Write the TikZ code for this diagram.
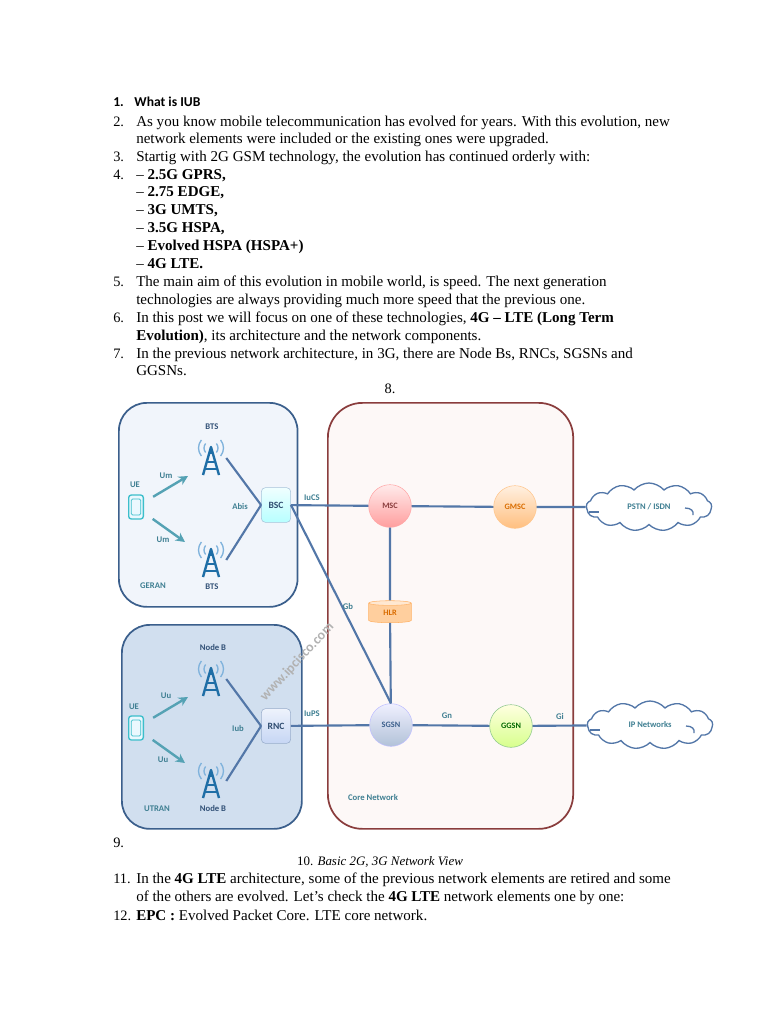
\documentclass[tikz,border=0pt]{standalone}
\usepackage{fontspec}
\setmainfont{Liberation Serif}
\newfontfamily\labelfont{Carlito}
\usetikzlibrary{arrows.meta,positioning,calc,shapes.geometric,shapes.symbols}
\definecolor{wire}{HTML}{5377A8}
\definecolor{teal}{HTML}{3F7F92}
\definecolor{arrowteal}{HTML}{55A2B4}
\definecolor{towerblue}{HTML}{1F6EA6}
\definecolor{signalblue}{HTML}{7FB2DC}
\definecolor{geranfill}{HTML}{F1F5FB}
\definecolor{utranfill}{HTML}{D1DFEF}
\definecolor{zoneline}{HTML}{3B5F8C}
\definecolor{corefill}{HTML}{FDF8F7}
\definecolor{coreline}{HTML}{8A3D3D}
\definecolor{rncfill}{HTML}{C6D6F4}
\tikzset{bodytext/.style={anchor=base west,inner sep=0pt,font=\fontsize{11.28}{12}\selectfont},
 listnum/.style={anchor=base west,inner sep=0pt,font=\fontsize{10.8}{12}\selectfont},
 zone/.style={draw=zoneline,line width=1.3pt,rounded corners=21pt,anchor=north west,inner sep=0pt},
 wirelink/.style={draw=wire,line width=1.6pt},
 uplink/.style={-{Stealth[length=7pt,width=7pt]},draw=arrowteal,line width=1.8pt,shorten <=8pt},
 tag/.style={font=\labelfont\bfseries\fontsize{6.5}{7}\selectfont,text=teal,inner sep=0pt},
 darktag/.style={tag,text=zoneline!85!black},
 towerbox/.style={minimum width=22.5pt,minimum height=27pt,inner sep=0pt},
 uebox/.style={draw=arrowteal!70!cyan,fill=cyan!8,line width=1pt,rounded corners=2pt,minimum width=11pt,minimum height=18pt,inner sep=0pt},
 uescreen/.style={draw=arrowteal!70!cyan,line width=.6pt,rounded corners=1pt,minimum width=7pt,minimum height=12pt,inner sep=0pt},
 ctrl/.style={rounded corners=3pt,draw=#1,minimum width=22pt,minimum height=26pt,inner sep=0pt,font=\labelfont\bfseries\fontsize{7.2}{8}\selectfont,text=zoneline!80!black},
 netnode/.style={circle,minimum size=32pt,inner sep=0pt,font=\labelfont\bfseries\fontsize{6.2}{7}\selectfont},
 netcloud/.style={cloud,cloud puffs=13,cloud puff arc=100,aspect=2.6,draw=wire,fill=white,line width=1pt,inner sep=0pt,minimum width=94pt,minimum height=36pt,font=\labelfont\bfseries\fontsize{6.4}{7}\selectfont,text=teal},
 radiomast/.pic={
  \foreach \r in {7,12.5}{
   \draw[signalblue,line width=1pt] (0,-10)++(-40:\r) arc[start angle=-40,end angle=40,radius=\r];
   \draw[signalblue,line width=1pt] (0,-10)++(140:\r) arc[start angle=140,end angle=220,radius=\r];}
  \draw[towerblue,line width=1.8pt,line join=round] (-8,17)--(0,-11)--(8,17);
  \draw[towerblue,line width=1.5pt] (0,-11)--(0,-4) (-4,4)--(4,4) (-6,11)--(6,11);}}
\begin{document}
\begin{tikzpicture}[x=.75pt,y=-.75pt]
\useasboundingbox (0,0) rectangle (768,1024);
% page text
\node[anchor=base west,inner sep=0pt,font=\labelfont\bfseries\fontsize{10.2}{11}\selectfont] (head) at (113,106) {1.\hspace{8pt}What is IUB};
\foreach \n/\y/\t in {{a/126/{2.}},{b/161/{3.}},{c/179/{4.}},{d/286/{5.}},{e/322/{6.}},{f/358/{7.}},{g/883/{11.}},{h/920/{12.}}}{
 \node[listnum] (num\n) at (113,\y) {\t};}
\foreach \n/\y/\t in {
 {a/126/{As you know mobile telecommunication has evolved for years. With this evolution, new}},
 {b/143/{network elements were included or the existing ones were upgraded.}},
 {c/161/{Startig with 2G GSM technology, the evolution has continued orderly with:}},
 {d/179/{– \textbf{2.5G GPRS,}}},
 {e/196/{– \textbf{2.75 EDGE,}}},
 {f/214/{– \textbf{3G UMTS,}}},
 {g/232/{– \textbf{3.5G HSPA,}}},
 {h/250/{– \textbf{Evolved HSPA (HSPA+)}}},
 {i/268/{– \textbf{4G LTE.}}},
 {j/286/{The main aim of this evolution in mobile world, is speed. The next generation}},
 {k/304/{technologies are always providing much more speed that the previous one.}},
 {l/322/{In this post we will focus on one of these technologies, \textbf{4G – LTE (Long Term}}},
 {m/340/{\textbf{Evolution)}, its architecture and the network components.}},
 {n/358/{In the previous network architecture, in 3G, there are Node Bs, RNCs, SGSNs and}},
 {o/375/{GGSNs.}},
 {p/883/{In the \textbf{4G LTE} architecture, some of the previous network elements are retired and some}},
 {q/901/{of the others are evolved. Let’s check the \textbf{4G LTE} network elements one by one:}},
 {r/920/{\textbf{EPC :} Evolved Packet Core. LTE core network.}}}{
 \node[bodytext] (line\n) at (136,\y) {\t};}
\node[listnum,anchor=base] (numi) at (390,393) {8.};
\node[listnum] (numj) at (113,847) {9.};
\node[listnum,anchor=base,font=\fontsize{9.7}{12}\selectfont] (caption) at (380,865) {10. \textit{Basic 2G, 3G Network View}};
% zones
\node[zone,fill=geranfill,minimum width=134pt,minimum height=153pt] (geran) at (118,402) {};
\node[zone,fill=utranfill,minimum width=135pt,minimum height=153pt] (utran) at (121,624) {};
\node[zone,draw=coreline,fill=corefill,rounded corners=26pt,minimum width=184pt,minimum height=319.5pt] (core) at (327,402) {};
% controllers and core nodes
\node[ctrl=cyan!30!wire!50,top color=cyan!6,bottom color=cyan!28] (bsc) at (276,505) {BSC};
\node[ctrl=wire!60,top color=rncfill!30,bottom color=rncfill] (rnc) at (276,726) {RNC};
\node[netnode,draw=red!35,top color=red!8,bottom color=red!38,text=coreline] (msc) at (390,506) {MSC};
\node[netnode,draw=orange!45,top color=orange!12,bottom color=orange!50,text=orange!85!black] (gmsc) at (515,507) {GMSC};
\node[netnode,draw=blue!25,top color=blue!6,bottom color=wire!45,text=zoneline] (sgsn) at (391,725) {SGSN};
\node[netnode,draw=green!50!black!45,top color=yellow!12,bottom color=green!35!yellow!45,text=green!40!black] (ggsn) at (511,726) {GGSN};
\node[cylinder,shape border rotate=90,aspect=.35,draw=orange!60,cylinder uses custom fill,cylinder body fill=orange!38,cylinder end fill=orange!18,minimum width=32pt,minimum height=16.5pt,inner sep=0pt,font=\labelfont\bfseries\fontsize{6.2}{7}\selectfont,text=orange!85!black] (hlr) at (390,613) {HLR};
\node[netcloud] (pstn) at (649,507) {PSTN / ISDN};
\node[netcloud] (ipnet) at (650,725) {IP Networks};
\foreach \n in {pstn,ipnet}{
 \draw[wire,line width=1pt] ($(\n)+(36,1)$) .. controls ($(\n)+(42,1)$) and ($(\n)+(45,4)$) .. ($(\n)+(44,8)$);
 \draw[wire,line width=1pt] ($(\n)+(-60,5)$) -- ($(\n)+(-50,5)$);}
% masts and phones
\foreach \n/\x/\y in {btsa/211/458,btsb/211/560,nba/211/679,nbb/211/781}{
 \node[towerbox] (\n) at (\x,\y) {};
 \pic at (\n) {radiomast};}
\foreach \n/\y in {uea/507,ueb/728}{
 \node[uebox] (\n) at (136,\y) {};
 \node[uescreen] (scr\n) at (\n) {};}
\coordinate (tipa) at (188,476);
\coordinate (tipb) at (185,542);
\coordinate (tipc) at (188,697);
\coordinate (tipd) at (185,763);
% links
\draw[uplink] (uea)--(tipa);
\draw[uplink] (uea)--(tipb);
\draw[uplink] (ueb)--(tipc);
\draw[uplink] (ueb)--(tipd);
\draw[wirelink] (btsa.east)--(bsc.west);
\draw[wirelink] (btsb.east)--(bsc.west);
\draw[wirelink] (nba.east)--(rnc.west);
\draw[wirelink] (nbb.east)--(rnc.west);
\draw[wirelink] (bsc)--(msc);
\draw[wirelink] (msc)--(gmsc);
\draw[wirelink] (gmsc)--(pstn);
\draw[wirelink] (msc)--(hlr);
\draw[wirelink] (hlr)--(sgsn);
\draw[wirelink] (bsc.east)--(sgsn.north);
\draw[wirelink] (rnc)--(sgsn);
\draw[wirelink] (sgsn)--(ggsn);
\draw[wirelink] (ggsn)--(ipnet);
% labels
\node[darktag] (btstop) at (212,427) {BTS};
\node[darktag] (btsbot) at (212,587) {BTS};
\node[tag] (uetop) at (135,485) {UE};
\node[tag] (uma) at (166,476) {Um};
\node[tag] (umb) at (163,540) {Um};
\node[tag] (abis) at (240,506) {Abis};
\node[tag] (iucs) at (312,498) {IuCS};
\node[tag] (gb) at (348,606) {Gb};
\node[tag] (geranlabel) at (153,586) {GERAN};
\node[darktag] (nbtop) at (213,647) {Node B};
\node[darktag] (nbbot) at (213,808) {Node B};
\node[tag] (uebot) at (134,707) {UE};
\node[tag] (uua) at (166,696) {Uu};
\node[tag] (uub) at (163,760) {Uu};
\node[tag] (iub) at (238,728) {Iub};
\node[tag] (iups) at (312,714) {IuPS};
\node[tag] (utranlabel) at (157,809) {UTRAN};
\node[tag] (corelabel) at (373,797) {Core Network};
\node[tag] (gn) at (447,716) {Gn};
\node[tag] (gi) at (560,716) {Gi};
\node[font=\labelfont\bfseries\fontsize{10.4}{11}\selectfont,text=black!30,rotate=47,inner sep=0pt] (mark) at (297,662) {www.ipcisco.com};
\end{tikzpicture}
\end{document}
